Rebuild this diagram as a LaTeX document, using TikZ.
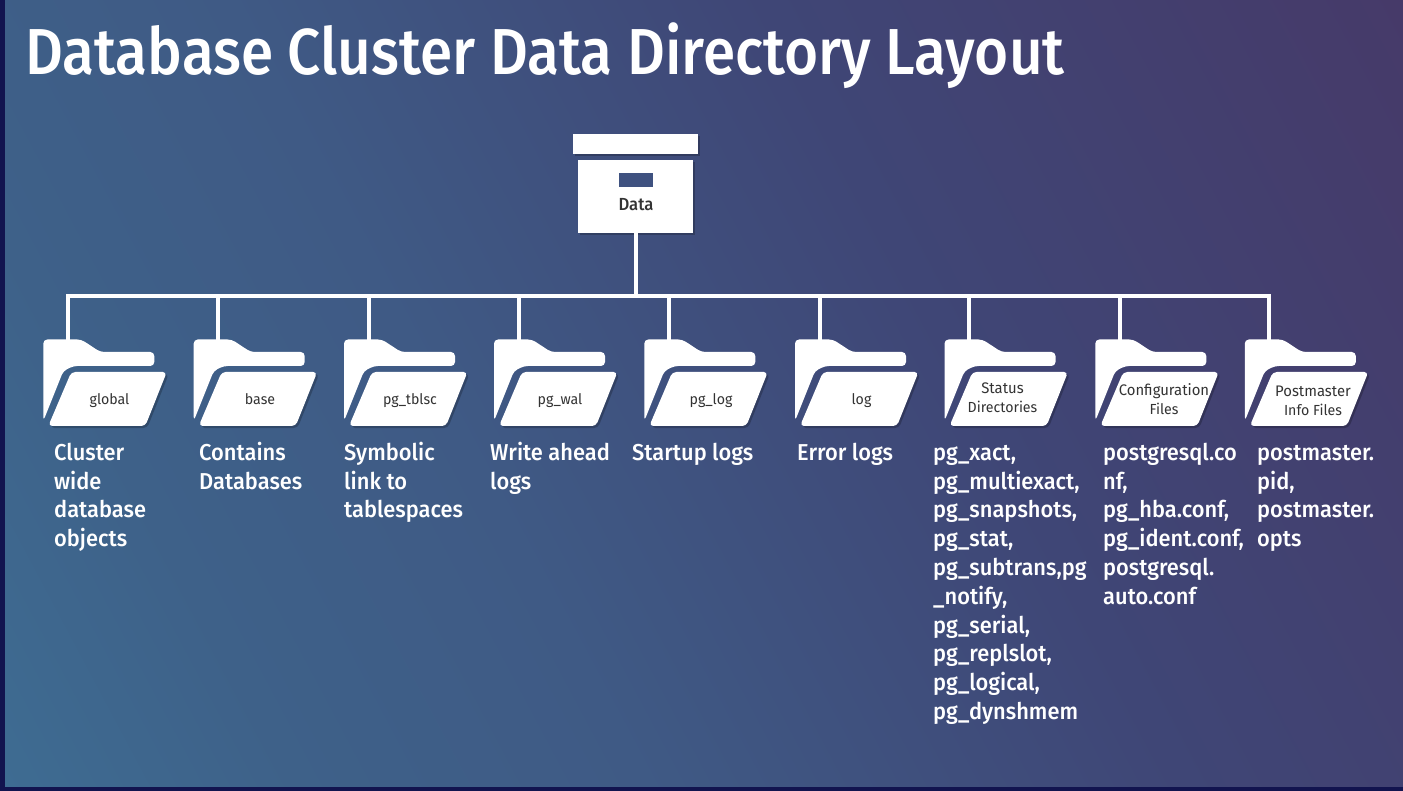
\documentclass[tikz,border=0pt]{standalone}
\usepackage{fontspec}
\setmainfont{Fira Sans}[FakeStretch=0.97]
\newfontfamily\medfont{Fira Sans Medium}[FakeStretch=0.95]
\newfontfamily\titlefont{Fira Sans Medium}[FakeStretch=0.90]
\definecolor{bgA}{HTML}{3E6C92}
\definecolor{bgAB}{HTML}{3E6189}
\definecolor{bgB}{HTML}{3F5A85}
\definecolor{bgC}{HTML}{3F4676}
\definecolor{bgD}{HTML}{463A69}
\definecolor{frame}{HTML}{12144F}
\definecolor{slot}{HTML}{3F5280}
\definecolor{ink}{HTML}{333333}
\pgfdeclarehorizontalshading{bgshade}{100bp}{color(0bp)=(bgA); color(16bp)=(bgA); color(27bp)=(bgAB); color(40bp)=(bgB); color(60bp)=(bgC); color(84bp)=(bgD); color(100bp)=(bgD)}
\newcommand{\firstl}{\rule{0pt}{20pt}}
\newcommand{\biglab}{\fontsize{15.3}{19}\selectfont}
\tikzset{
  conn/.style={draw=white,line width=4pt},
  shadowed/.style={fill=black,fill opacity=0.22,draw=none},
  paper/.style={fill=white,draw=none},
  desc/.style={anchor=north west,inner sep=0pt,text=white,align=left,font=\fontsize{23}{28.8}\selectfont\medfont},
  lab/.style={inner sep=0pt,text=ink,align=center,font=\fontsize{14.6}{19}\selectfont},
}
\newcommand{\folderback}{(0,339.5) -- (38,339.5) -- (57,352) -- (111,352) -- (111,366) -- (30,366) -- (20,371) -- (0,421) -- cycle}
\newcommand{\folderfront}{(28,372) -- (123.5,372) -- (102,426) -- (5,426) -- cycle}
\newcommand{\folder}[5]{%
  \begin{scope}[shift={(#2,0)}]
    \path[shadowed,rounded corners=4pt,shift={(2,2)}] \folderfront;
    \path[paper,rounded corners=4pt] \folderback;
    \path[paper,rounded corners=4pt] \folderfront;
    \coordinate (#1top) at (24.5,341);
    \coordinate (#1bus) at (24.5,296);
    \node[lab] (#1lab) at (#3,#4) {#5};
  \end{scope}
  \draw[conn] (#1bus) -- (#1top);
}
\begin{document}
\begin{tikzpicture}[x=1pt,y=-1pt]
\useasboundingbox (0,0) rectangle (1403,791);
\fill[frame] (0,0) rectangle (1403,791);
\shade[shading=bgshade,shading angle=28] (5,0) rectangle (1403,786);
\node[anchor=base west,inner sep=0pt,text=white,font=\fontsize{65}{70}\selectfont\titlefont] (title) at (25,75) {Database Cluster Data Directory Layout};

% box
\path[shadowed] (575,136) rectangle (700,156);
\path[shadowed] (580,162) rectangle (695,235);
\node[paper,minimum width=125pt,minimum height=20pt,inner sep=0pt] (lid) at (635.5,144) {};
\node[paper,minimum width=115pt,minimum height=73pt,inner sep=0pt] (body) at (635.5,196.5) {};
\node[fill=slot,draw=none,minimum width=34pt,minimum height=14pt,inner sep=0pt] (slotbox) at (636,180) {};
\node[inner sep=0pt,text=ink,font=\fontsize{17.5}{20}\selectfont\medfont] (datalab) at (636,205) {Data};

\folder{a}{43.3}{66.2}{400.5}{global}
\folder{b}{193.7}{66.3}{399}{base}
\folder{c}{344}{66}{400.5}{pg\_tblsc}
\folder{d}{494}{66}{400.5}{pg\_wal}
\folder{e}{644.3}{66.7}{400.5}{pg\_log}
\folder{f}{795}{66.5}{400.5}{log}
\folder{g}{944.5}{58}{397.5}{\biglab Status\\Directories}
\folder{h}{1095.3}{68.7}{399.5}{\biglab Configuration\\Files}
\folder{i}{1244.8}{68.2}{400.5}{\biglab Postmaster\\Info Files}

\draw[conn,line cap=rect] (abus) -- (ibus);
\coordinate (mid) at (body.south |- abus);
\draw[conn] (body.south) -- (mid);

\node[desc] (da) at (54,440) {\firstl Cluster\\wide\\database\\objects};
\node[desc] (db) at (199,440) {\firstl Contains\\Databases};
\node[desc] (dc) at (344,440) {\firstl Symbolic\\link to\\tablespaces};
\node[desc] (dd) at (490,440) {\firstl Write ahead\\logs};
\node[desc] (de) at (632,440) {\firstl Startup logs};
\node[desc] (df) at (797,440) {\firstl Error logs};
\node[desc] (dg) at (933,440) {\firstl pg\_xact,\\pg\_multiexact,\\pg\_snapshots,\\pg\_stat,\\pg\_subtrans,pg\\\_notify,\\pg\_serial,\\pg\_replslot,\\pg\_logical,\\pg\_dynshmem};
\node[desc] (dh) at (1103,440) {\firstl postgresql.co\\nf,\\pg\_hba.conf,\\pg\_ident.conf,\\postgresql.\\auto.conf};
\node[desc] (di) at (1257,440) {\firstl postmaster.\\pid,\\postmaster.\\opts};
\end{tikzpicture}
\end{document}
